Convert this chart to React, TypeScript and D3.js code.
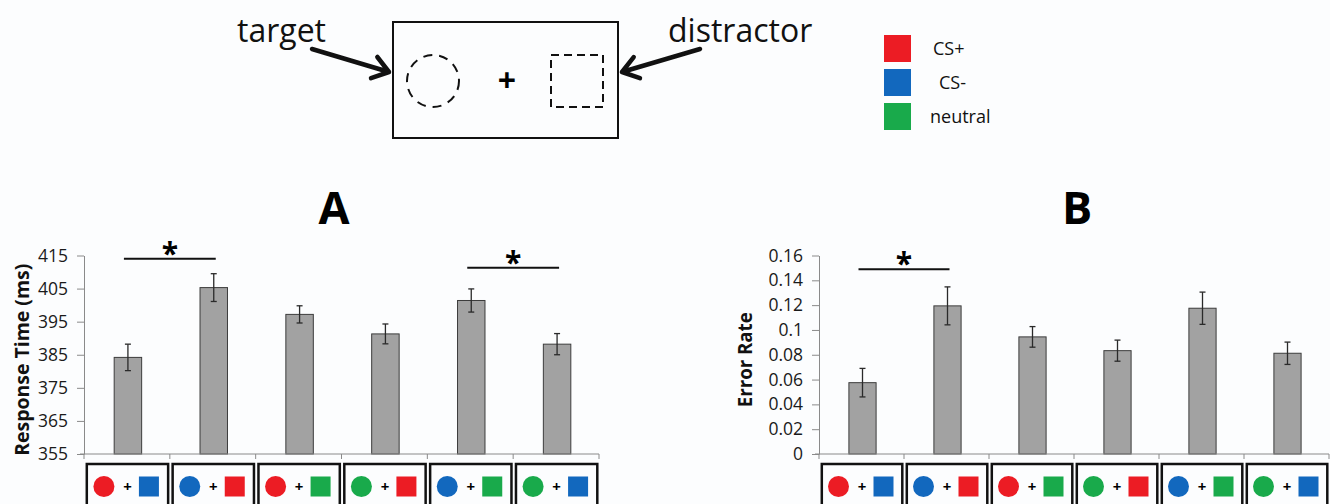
import { useEffect, useRef } from 'react';
import * as d3 from 'd3';

// stimulus pairs: [target, distractor]
const conditions = [
  ['cs+', 'cs-'],
  ['cs-', 'cs+'],
  ['cs+', 'neutral'],
  ['neutral', 'cs+'],
  ['cs-', 'neutral'],
  ['neutral', 'cs-'],
];
const legendLabels = ['CS+', 'CS-', 'neutral'];
const colors: Record<string, string> = { 'cs+': '#ec1c24', 'cs-': '#1268be', neutral: '#19aa4b' };

const rtMeans = [384.2, 405.3, 397.2, 391.3, 401.4, 388.2];
const rtErrors = [4.0, 4.2, 2.6, 3.0, 3.5, 3.2];
const rtTicks = [355, 365, 375, 385, 395, 405, 415];
const rtSig = [{ from: 0, to: 1, level: 414 }, { from: 4, to: 5, level: 411.3 }];

const errMeans = [0.0575, 0.1194, 0.0944, 0.0833, 0.1175, 0.0812];
const errErrors = [0.0115, 0.0153, 0.0083, 0.0085, 0.013, 0.009];
const errTicks = [0, 0.02, 0.04, 0.06, 0.08, 0.1, 0.12, 0.14, 0.16];
const errSig = [{ from: 0, to: 1, level: 0.149 }];

const FONT = '"Open Sans", sans-serif';

const Panel = ({ title, titleX, label, labelX, labelLen, means, errors, ticks, sig, left, right }) => {
  const axisRef = useRef(null);
  const top = 255.5;
  const bottom = 454;

  const x = d3.scaleBand().domain(d3.range(means.length).map(String)).range([left, right]).padding(0);
  const y = d3.scaleLinear().domain([ticks[0], ticks[ticks.length - 1]]).range([bottom, top]);
  const bw = x.bandwidth();
  const barW = bw * 0.32;

  useEffect(() => {
    const g = d3.select(axisRef.current);
    g.selectAll('*').remove();
    const ya = g.append('g')
      .attr('transform', `translate(${left},0)`)
      .call(d3.axisLeft(y).tickValues(ticks).tickSize(7).tickPadding(9).tickSizeOuter(0).tickFormat(d3.format('')));
    ya.select('.domain').attr('stroke', '#8a8a8a');
    ya.selectAll('line').attr('stroke', '#8a8a8a');
    ya.selectAll('text').attr('font-size', 17.5).attr('font-family', FONT).attr('fill', '#1a1a1a');

    const xa = g.append('g').attr('transform', `translate(0,${bottom})`);
    xa.append('line').attr('x1', left - 4).attr('x2', right).attr('stroke', '#8a8a8a');
    const bounds = d3.range(means.length + 1).map(i => left + i * bw);
    xa.selectAll('.tk').data(bounds).enter().append('line')
      .attr('x1', d => d).attr('x2', d => d).attr('y1', 0).attr('y2', 5)
      .attr('stroke', '#8a8a8a');
  }, []);

  return (
    <g>
      <text x={titleX} y={224} textAnchor="middle" fontFamily={FONT} fontWeight="bold" fontSize={45}>{title}</text>
      <text transform={`translate(${labelX},${(top + bottom) / 2 + 5}) rotate(-90)`} textAnchor="middle"
        fontFamily={FONT} fontWeight="bold" fontSize={19.5} fill="#111" textLength={labelLen} lengthAdjust="spacingAndGlyphs">{label}</text>
      {means.map((m, i) => {
        const cx = x(String(i)) + bw / 2 + 1;
        return (
          <g key={i}>
            <rect x={cx - barW / 2} y={y(m)} width={barW} height={bottom - y(m)} fill="#a2a2a2" stroke="#3c3c3c" strokeWidth={1} />
            <line x1={cx} x2={cx} y1={y(m + errors[i])} y2={y(m - errors[i])} stroke="#2a2a2a" strokeWidth={1.3} />
            <line x1={cx - 3} x2={cx + 3} y1={y(m + errors[i])} y2={y(m + errors[i])} stroke="#2a2a2a" strokeWidth={1.3} />
            <line x1={cx - 3} x2={cx + 3} y1={y(m - errors[i])} y2={y(m - errors[i])} stroke="#2a2a2a" strokeWidth={1.3} />
          </g>
        );
      })}
      <g ref={axisRef} />
      {sig.map((s, i) => {
        const x1 = x(String(s.from)) + bw / 2 - 3;
        const x2 = x(String(s.to)) + bw / 2 + 3;
        return (
          <g key={i}>
            <line x1={x1} x2={x2} y1={y(s.level)} y2={y(s.level)} stroke="#111" strokeWidth={2} />
            <text x={(x1 + x2) / 2} y={y(s.level) + 5} textAnchor="middle" fontFamily={FONT} fontWeight="bold" fontSize={30}>*</text>
          </g>
        );
      })}
      {conditions.map((c, i) => {
        const bx = x(String(i));
        const cx = bx + bw / 2;
        const cy = 486.5;
        return (
          <g key={'ic' + i}>
            <rect x={bx + 2.8} y={464} width={bw - 4.5} height={60} fill="none" stroke="#111" strokeWidth={2.5} />
            <circle cx={cx - 23} cy={cy} r={10.5} fill={colors[c[0]]} />
            <text x={cx + 0.5} y={cy + 5} textAnchor="middle" fontFamily={FONT} fontWeight="bold" fontSize={15}>+</text>
            <rect x={cx + 12} y={cy - 10} width={20} height={20} fill={colors[c[1]]} />
          </g>
        );
      })}
    </g>
  );
};

const arrowHead = (x1: number, y1: number, x2: number, y2: number) => {
  const a = Math.atan2(y2 - y1, x2 - x1);
  const L = 19;
  const s = 0.62;
  const p1 = [x2 - L * Math.cos(a - s), y2 - L * Math.sin(a - s)];
  const p2 = [x2 - L * Math.cos(a + s), y2 - L * Math.sin(a + s)];
  return `M${x1},${y1}L${x2},${y2}M${p1[0]},${p1[1]}L${x2},${y2}L${p2[0]},${p2[1]}`;
};

export default function App() {
  return (
    <svg width={1330} height={504} style={{ position: 'absolute', left: 0, top: 0, background: '#fcfdfe' }}>
      {/* stimulus display */}
      <rect x={393} y={22} width={225} height={116} fill="none" stroke="#111" strokeWidth={2} />
      <circle cx={433} cy={81} r={26} fill="none" stroke="#111" strokeWidth={2} strokeDasharray="9 7" />
      <text x={507} y={92} textAnchor="middle" fontFamily={FONT} fontWeight="bold" fontSize={32}>+</text>
      <rect x={551} y={55} width={52} height={52} fill="none" stroke="#111" strokeWidth={2} strokeDasharray="8 5" />
      <text x={237} y={42} fontFamily={FONT} fontSize={32} fill="#111">target</text>
      <text x={668} y={42} fontFamily={FONT} fontSize={32} fill="#111">distractor</text>
      <path d={arrowHead(312, 49, 389, 72)} fill="none" stroke="#111" strokeWidth={4.5} strokeLinecap="round" strokeLinejoin="round" />
      <path d={arrowHead(700, 49, 622, 72)} fill="none" stroke="#111" strokeWidth={4.5} strokeLinecap="round" strokeLinejoin="round" />

      {/* legend */}
      {legendLabels.map((l, i) => (
        <g key={l}>
          <rect x={884} y={35 + i * 34} width={27} height={27} fill={Object.values(colors)[i]} />
          <text x={[933, 939, 930][i]} y={55 + i * 34} fontFamily={FONT} fontSize={18} fill="#111">{l}</text>
        </g>
      ))}

      <Panel title="A" titleX={334} label="Response Time (ms)" labelX={29} labelLen={192} means={rtMeans} errors={rtErrors}
        ticks={rtTicks} sig={rtSig} left={84} right={599} />
      <Panel title="B" titleX={1077} label="Error Rate" labelX={752} labelLen={95} means={errMeans} errors={errErrors}
        ticks={errTicks} sig={errSig} left={819} right={1329} />
    </svg>
  );
}
